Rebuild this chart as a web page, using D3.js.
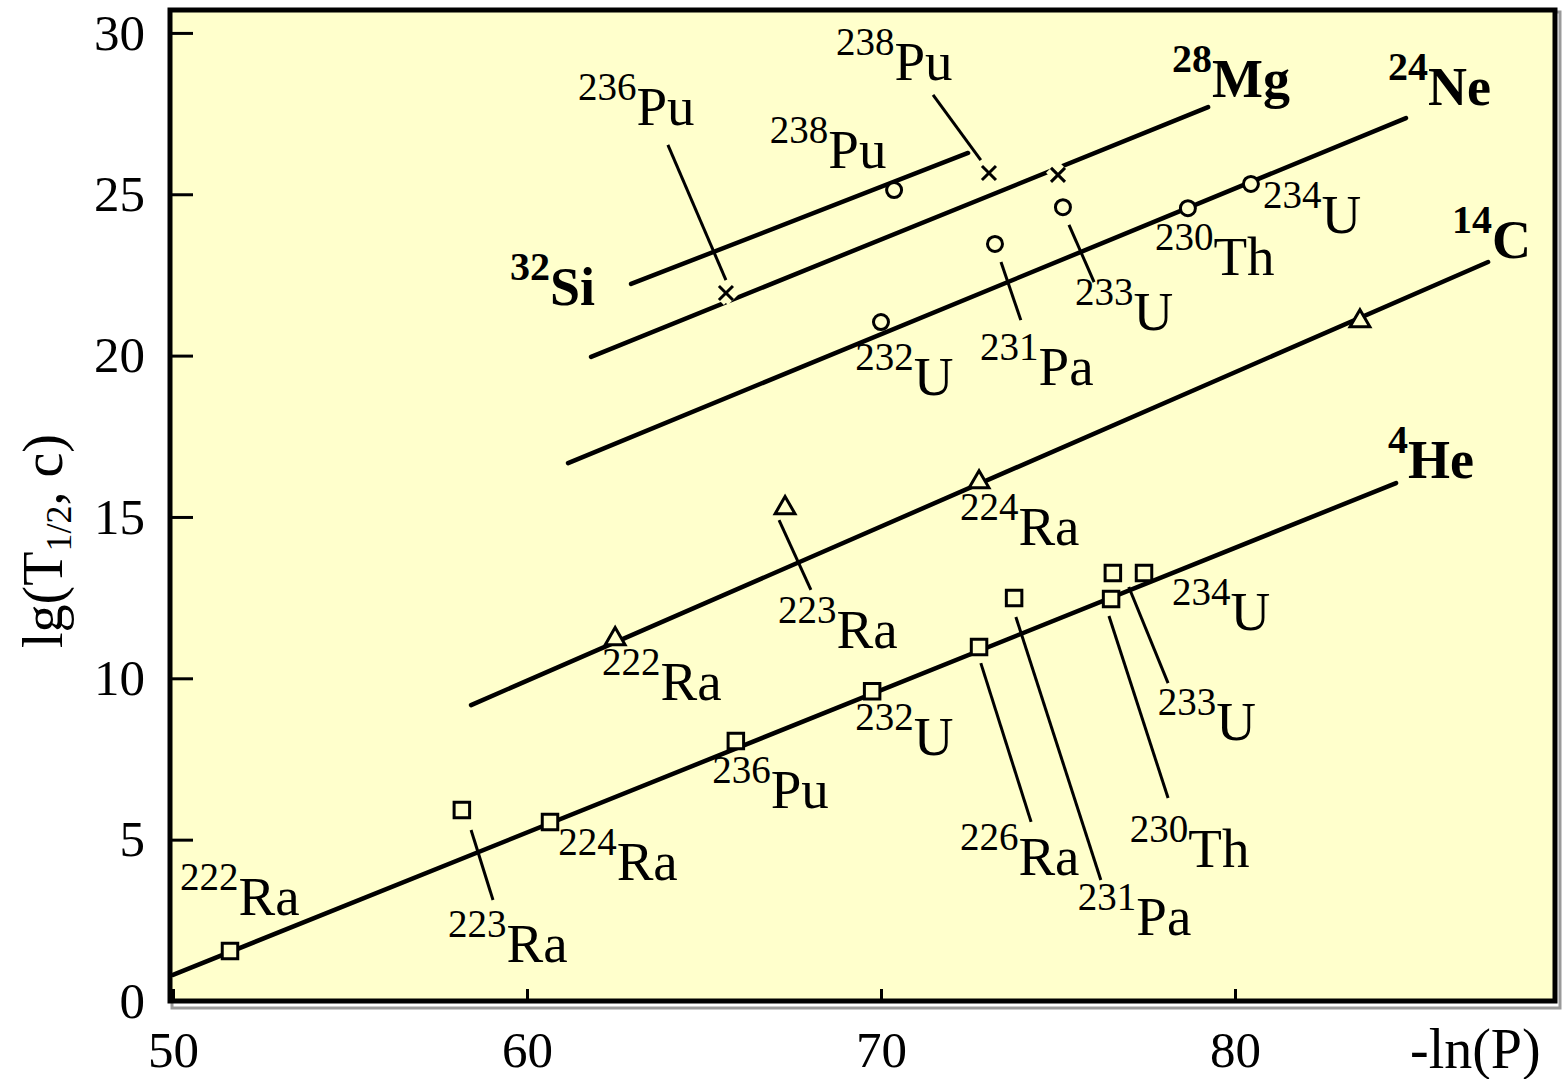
<!DOCTYPE html>
<html><head><meta charset="utf-8">
<script src="https://cdn.jsdelivr.net/npm/d3@7"></script>
<style>
body{margin:0;background:#fff;}
text{font-family:"Liberation Serif","Times New Roman",serif;fill:#000;}
</style>
</head><body>
<svg id="chart" width="1562" height="1079"></svg>
<script>
// ---------- data ----------
const xTicks = [50, 60, 70, 80];
const yTicks = [0, 5, 10, 15, 20, 25, 30];
const xTitle = "-ln(P)";

// 4He series (squares)
const heX = [51.61, 58.16, 60.65, 65.9, 69.75, 72.77, 73.76, 76.5, 76.55, 77.43];
const heY = [1.55, 5.92, 5.55, 8.06, 9.6, 10.97, 12.49, 12.46, 13.26, 13.26];
const heFit = [[50, 0.81], [84.55, 16.05]];

// 14C series (triangles)
const cX = [62.49, 67.29, 72.77, 83.53];
const cY = [11.25, 15.31, 16.11, 21.1];
const cFit = [[58.42, 9.17], [87.15, 22.9]];

// 24Ne series (circles)
const neX = [70.0, 73.22, 75.14, 78.67, 80.45];
const neY = [21.04, 23.46, 24.6, 24.57, 25.32];
const neFit = [[61.16, 16.67], [84.83, 27.36]];

// 32Si series (circle)
const siX = [70.37];
const siY = [25.13];
const siFit = [[62.94, 22.22], [72.46, 26.28]];

// 28Mg series (crosses)
const mgX = [65.62, 73.05, 75.0];
const mgY = [21.94, 25.66, 25.6];
const mgFit = [[61.81, 19.96], [79.24, 27.7]];

// isotope annotations: mass, element, anchor (data units)
const isoMass = ["222","223","224","236","232","226","231","230","233","234",
                 "222","223","224",
                 "232","231","233","230","234",
                 "236","238","238"];
const isoElem = ["Ra","Ra","Ra","Pu","U","Ra","Pa","Th","U","U",
                 "Ra","Ra","Ra",
                 "U","Pa","U","Th","U",
                 "Pu","Pu","Pu"];
const isoAtX = [50.2, 57.77, 60.88, 65.23, 69.27, 72.23, 75.56, 77.03, 77.82, 78.22,
                62.12, 67.09, 72.23,
                69.27, 72.8, 75.48, 77.74, 80.79,
                61.44, 66.86, 68.73];
const isoAtY = [2.67, 1.21, 3.75, 5.98, 7.62, 3.9, 2.05, 4.15, 8.09, 11.5,
                9.33, 10.94, 14.13,
                18.78, 19.09, 20.79, 22.5, 23.8,
                27.15, 25.8, 28.54];

// series name labels
const seriesMass = ["4", "14", "24", "28", "32"];
const seriesElem = ["He", "C", "Ne", "Mg", "Si"];
const seriesAtX = [84.32, 86.13, 84.32, 78.22, 59.52];
const seriesAtY = [16.21, 23.02, 27.77, 28.01, 21.57];

// leader lines [x1, y1, x2, y2]
const leaders = [
  [58.42, 5.3, 59.04, 3.13],
  [72.82, 10.47, 74.24, 5.55],
  [73.81, 11.9, 76.21, 3.75],
  [76.44, 11.93, 78.11, 6.29],
  [77.0, 12.83, 78.11, 9.85],
  [67.12, 14.9, 68.02, 12.74],
  [73.39, 22.9, 73.95, 21.1],
  [75.31, 24.05, 76.02, 22.28],
  [63.98, 26.53, 65.62, 22.34],
  [71.47, 28.08, 72.82, 26.06]
];

// ---------- chart ----------
const BG = "#FFFFCC";
const svg = d3.select("#chart");
const m = {l: 173, r: 1555, t: 10, b: 1001};
const x = d3.scaleLinear().domain([50, 89.04]).range([m.l, m.r]);
const y = d3.scaleLinear().domain([0, 30.71]).range([m.b, m.t]);

// shadow + plot background
svg.append("rect").attr("x", 172).attr("y", 12).attr("width", 1388).attr("height", 996)
  .attr("fill", "none").attr("stroke", "#9a9a9a").attr("stroke-width", 3);
svg.append("rect").attr("x", 170).attr("y", 10).attr("width", 1385).attr("height", 991)
  .attr("fill", BG);

const g = svg.append("g");
svg.append("defs").append("clipPath").attr("id", "pc")
  .append("rect").attr("x", 170).attr("y", 10).attr("width", 1385).attr("height", 991);
const plot = g.append("g").attr("clip-path", "url(#pc)");

// fit lines
const fits = [heFit, cFit, neFit, siFit, mgFit];
const line = d3.line().x(d => x(d[0])).y(d => y(d[1]));
plot.selectAll("path.fit").data(fits).join("path").attr("class", "fit")
  .attr("d", line).attr("fill", "none").attr("stroke", "#000").attr("stroke-width", 4.5)
  .attr("stroke-linecap", "round");

// leaders
plot.selectAll("line.ld").data(leaders).join("line").attr("class", "ld")
  .attr("x1", d => x(d[0])).attr("y1", d => y(d[1]))
  .attr("x2", d => x(d[2])).attr("y2", d => y(d[3]))
  .attr("stroke", "#000").attr("stroke-width", 3);

function pts(xs, ys) { return xs.map((v, i) => [v, ys[i]]); }

// markers
const sq = d3.symbol().type(d3.symbolSquare).size(240);
const tri = d3.symbol().type(d3.symbolTriangle).size(170);
plot.selectAll("path.sq").data(pts(heX, heY)).join("path").attr("class", "sq")
  .attr("transform", d => `translate(${x(d[0])},${y(d[1])})`).attr("d", sq)
  .attr("fill", BG).attr("stroke", "#000").attr("stroke-width", 3);
plot.selectAll("path.tri").data(pts(cX, cY)).join("path").attr("class", "tri")
  .attr("transform", d => `translate(${x(d[0])},${y(d[1]) + 1})`).attr("d", tri)
  .attr("fill", BG).attr("stroke", "#000").attr("stroke-width", 3);
plot.selectAll("circle.ci").data(pts(neX.concat(siX), neY.concat(siY))).join("circle").attr("class", "ci")
  .attr("cx", d => x(d[0])).attr("cy", d => y(d[1])).attr("r", 7.5)
  .attr("fill", BG).attr("stroke", "#000").attr("stroke-width", 3);
const cross = d3.symbol().type(d3.symbolX).size(130);
const mg = plot.selectAll("g.x").data(pts(mgX, mgY)).join("g").attr("class", "x")
  .attr("transform", d => `translate(${x(d[0])},${y(d[1])})`);
mg.append("path").attr("d", cross).attr("fill", "none").attr("stroke", BG).attr("stroke-width", 14);
mg.append("path").attr("d", cross).attr("fill", "none").attr("stroke", "#000").attr("stroke-width", 3);

// isotope labels
function supLabel(sel, mass, el, fsSup, fsMain, weight) {
  sel.append("tspan").attr("font-size", fsSup).attr("dy", -25).text(mass);
  sel.append("tspan").attr("font-size", fsMain).attr("dy", 25).text(el);
  sel.attr("font-weight", weight);
}
isoMass.forEach((ms, i) => {
  const t = g.append("text").attr("x", x(isoAtX[i])).attr("y", y(isoAtY[i]));
  supLabel(t, ms, isoElem[i], 39, 55, "normal");
});
seriesMass.forEach((ms, i) => {
  const t = g.append("text").attr("x", x(seriesAtX[i])).attr("y", y(seriesAtY[i]));
  supLabel(t, ms, seriesElem[i], 40, 54, "bold");
});

// axes (ticks inward)
const ax = svg.append("g").attr("transform", `translate(0,${m.b})`)
  .call(d3.axisBottom(x).tickValues(xTicks).tickSize(-12).tickPadding(30).tickFormat(d3.format("d")));
const ay = svg.append("g").attr("transform", `translate(${m.l - 2},0)`)
  .call(d3.axisLeft(y).tickValues(yTicks).tickSize(-22).tickPadding(26).tickFormat(d3.format("d")));
[ax, ay].forEach(a => {
  a.select(".domain").remove();
  a.selectAll(".tick line").attr("stroke", "#000").attr("stroke-width", 3);
  a.selectAll(".tick text").attr("font-size", 51).attr("font-family", "Liberation Serif").attr("fill", "#000");
});

// frame
svg.append("rect").attr("x", 170).attr("y", 10).attr("width", 1385).attr("height", 991)
  .attr("fill", "none").attr("stroke", "#000").attr("stroke-width", 5);

// axis titles
svg.append("text").attr("x", 1410).attr("y", 1068).attr("font-size", 56).text(xTitle);
const yt = svg.append("text").attr("transform", "translate(62,541) rotate(-90)")
  .attr("text-anchor", "middle").attr("font-size", 56);
yt.append("tspan").text("lg(T");
yt.append("tspan").attr("font-size", 36).attr("dy", 9).text("1/2");
yt.append("tspan").attr("dy", -9).text(", c)");
</script>
</body></html>
